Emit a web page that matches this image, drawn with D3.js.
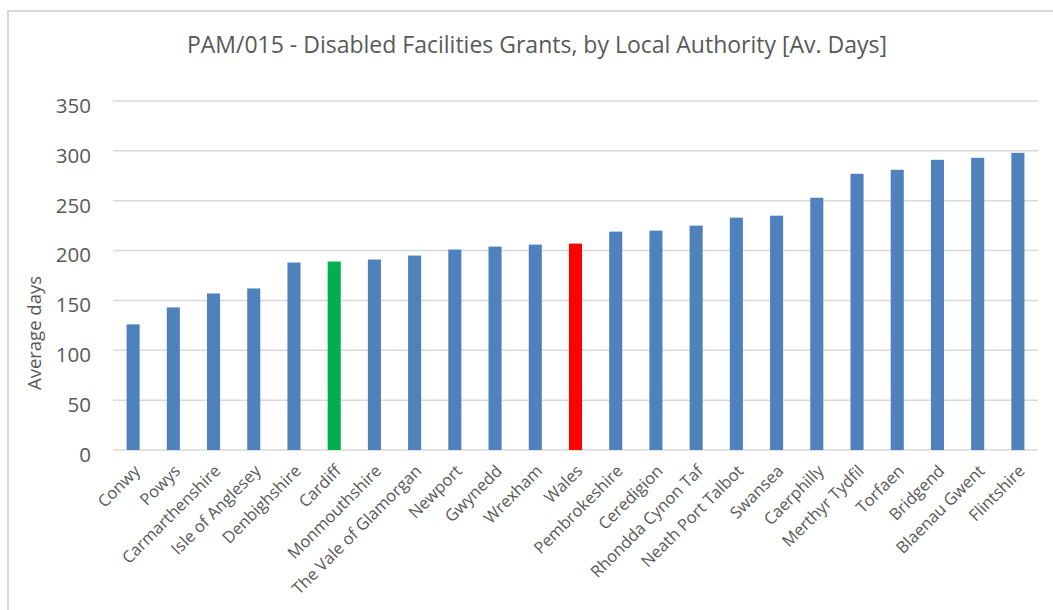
<!DOCTYPE html>
<html>
<head>
<meta charset="utf-8">
<script src="https://cdn.jsdelivr.net/npm/d3@7"></script>
<style>
html,body{margin:0;padding:0;background:#fff;}
svg{display:block;}
</style>
</head>
<body>
<svg id="chart" width="1053" height="610"></svg>
<script>
const categories = ["Conwy","Powys","Carmarthenshire","Isle of Anglesey","Denbighshire","Cardiff","Monmouthshire","The Vale of Glamorgan","Newport","Gwynedd","Wrexham","Wales","Pembrokeshire","Ceredigion","Rhondda Cynon Taf","Neath Port Talbot","Swansea","Caerphilly","Merthyr Tydfil","Torfaen","Bridgend","Blaenau Gwent","Flintshire"];
const values = [126,143,157,162,188,189,191,195,201,204,206,207,219,220,225,233,235,253,277,281,291,293,298];
const yTicks = [0,50,100,150,200,250,300,350];
const highlight = {"Cardiff":"#00b050","Wales":"#ff0000"};
const title = "PAM/015 - Disabled Facilities Grants, by Local Authority [Av. Days]";
const yTitle = "Average days";

const svg = d3.select("#chart");
const font = "'Open Sans', 'Liberation Sans', sans-serif";

// outer border
svg.append("path").attr("d","M8,610 V11 H1053").attr("fill","none").attr("stroke","#d9d9d9").attr("stroke-width",2);

const m = {left:113, right:1038, top:101, bottom:450};
const x = d3.scaleBand().domain(categories).range([m.left, m.right]).paddingInner(0.675).paddingOuter(0.3375);
const y = d3.scaleLinear().domain([0,350]).range([m.bottom, m.top]);

// gridlines
svg.append("g").selectAll("line").data(yTicks).join("line")
  .attr("x1",m.left).attr("x2",m.right)
  .attr("y1",d=>y(d)).attr("y2",d=>y(d))
  .attr("stroke","#d9d9d9").attr("stroke-width",1.5);

// y axis labels
const yAxis = d3.axisLeft(y).tickValues(yTicks).tickSize(0).tickPadding(0);
const ya = svg.append("g").attr("transform",`translate(${m.left-22},4)`).call(yAxis);
ya.select(".domain").remove();
ya.selectAll("text").attr("font-family",font).attr("font-size",20.5).attr("fill","#595959").attr("dy","0.36em");

// bars
svg.append("g").selectAll("rect").data(categories).join("rect")
  .attr("x",d=>x(d)).attr("width",x.bandwidth())
  .attr("y",(d,i)=>y(values[i])).attr("height",(d,i)=>y(0)-y(values[i]))
  .attr("fill",d=>highlight[d]||"#4f81bd");

// x labels
const xAxis = d3.axisBottom(x).tickSize(0).tickPadding(0);
const xa = svg.append("g").attr("transform",`translate(0,${m.bottom})`).call(xAxis);
xa.select(".domain").remove();
xa.selectAll("text")
  .attr("font-family",font).attr("font-size",16.5).attr("fill","#595959")
  .attr("text-anchor","end").attr("dy",null).attr("y",0)
  .attr("transform","translate(8,22) rotate(-45)");

// title
svg.append("text").attr("x",537).attr("y",53).attr("text-anchor","middle")
  .attr("font-family",font).attr("font-size",23).attr("fill","#595959").text(title);

// y title
svg.append("text").attr("transform","translate(41,333) rotate(-90)").attr("text-anchor","middle")
  .attr("font-family",font).attr("font-size",18.5).attr("fill","#595959").text(yTitle);
</script>
</body>
</html>
